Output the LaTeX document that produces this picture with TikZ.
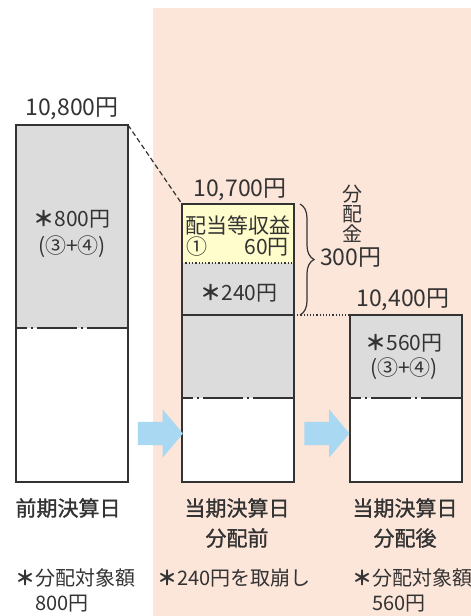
\documentclass[tikz,border=0pt]{standalone}
\usepackage{xcolor}
\usepackage{fontspec}
\setmainfont{Noto Sans CJK JP}
\newfontfamily\semibold{Noto Sans CJK JP}[FakeBold=1.2]
\usepackage{tikz}
\usetikzlibrary{positioning, shapes, shapes.arrows, decorations.pathreplacing, calc}

\definecolor{pinkbg}{HTML}{FCE5D9}
\definecolor{barfill}{HTML}{DCDCDC}
\definecolor{yelfill}{HTML}{FFFDCB}
\definecolor{arrblue}{HTML}{A8D8F2}
\definecolor{txtgray}{HTML}{333333}

\newcommand{\starmark}{{\bfseries ＊}}

\begin{document}
\begin{tikzpicture}[x=1pt, y=-1pt,
	seg/.style={minimum width=112pt, minimum height=#1, inner sep=0pt, outer sep=0pt, draw=none},
	barframe/.style={draw=txtgray, line width=1.3pt},
	dashdot/.style={draw=txtgray, line width=1.3pt, dash pattern=on 40pt off 4pt on 2pt off 4pt, dash phase=29pt},
	sumlbl/.style={font=\fontsize{23}{26}\selectfont, text=txtgray, inner sep=0pt},
	amtlbl/.style={font=\fontsize{21}{27}\selectfont, text=txtgray, inner sep=0pt},
	daylbl/.style={font=\fontsize{21}{30}\semibold, text=txtgray, inner sep=0pt, align=center},
	notelbl/.style={font=\fontsize{20}{25}\selectfont, text=txtgray, inner sep=0pt, align=left},
	steparrow/.style={single arrow, fill=arrblue, draw=none, minimum height=45pt, inner sep=11.5pt, single arrow head extend=12.5pt, single arrow tip angle=100}]
	
	\useasboundingbox (0,0) rectangle (471,616);
	\fill[pinkbg] (153,8) rectangle (471,616);
	
	% bars
	\node[seg=203pt, fill=barfill, anchor=north west] (prevTop) at (16,125) {};
	\node[seg=154pt, fill=white, below=0pt of prevTop] (prevBot) {};
	
	\node[seg=59pt, fill=yelfill, anchor=north west] (curInc) at (182,204) {};
	\node[seg=52pt, fill=barfill, below=0pt of curInc] (curRev) {};
	\node[seg=83pt, fill=barfill, below=0pt of curRev] (curTop) {};
	\node[seg=84pt, fill=white, below=0pt of curTop] (curBot) {};
	
	\node[seg=83pt, fill=barfill, anchor=north west] (aftTop) at (350,315) {};
	\node[seg=84pt, fill=white, below=0pt of aftTop] (aftBot) {};
	
	\draw[barframe] (prevTop.north west) rectangle (prevBot.south east);
	\draw[barframe] (curInc.north west) rectangle (curBot.south east);
	\draw[barframe] (aftTop.north west) rectangle (aftBot.south east);
	\draw[barframe] (curTop.north west) -- (curTop.north east);
	\draw[txtgray, line width=1.3pt, dotted] (curInc.south west) -- (curInc.south east);
	
	\foreach \b in {prevBot, curBot, aftBot}
		\draw[dashdot] (\b.north west) -- (\b.north east);
	
	% connectors
	\draw[txtgray, line width=1.2pt, dash pattern=on 5pt off 3pt] (prevTop.north east) -- (curInc.north west);
	\draw[txtgray, line width=1.2pt, dotted] (curTop.north east) -- (aftTop.north west);
	\draw[txtgray, line width=1.2pt, decorate, decoration={brace, amplitude=14pt}] ([xshift=6pt]curInc.north east) -- ([xshift=6pt]curRev.south east);
	
	\node[steparrow] (step1) at (155.5,433.5) {};
	\node[steparrow] (step2) at (322,433.5) {};
	
	% labels
	\node[sumlbl] (prevSum) at (72,109) {10,800円};
	\node[sumlbl] (curSum) at (240,190) {10,700円};
	\node[sumlbl] (aftSum) at (403,300) {10,400円};
	
	\node[amtlbl, align=center] (prevAmt) at (72,234) {\starmark{}800円\\(③+④)};
	\node[amtlbl, anchor=west] (incName) at (185,225) {配当等収益};
	\node[amtlbl, anchor=west] (incNo) at (186,247) {①};
	\node[amtlbl, anchor=east] (incAmt) at (289,247) {60円};
	\node[amtlbl] (revAmt) at (239,293) {\starmark{}240円};
	\node[amtlbl, align=center, font=\fontsize{21}{25}\selectfont] (aftAmt) at (404,357) {\starmark{}560円\\(③+④)};
	
	\node[sumlbl, anchor=west] (distAmt) at (320,258) {300円};
	\node[amtlbl, align=center, font=\fontsize{20}{20}\selectfont] (distName) at (352,214) {分\\配\\金};
	
	\node[daylbl] (prevDay) at (68,508) {前期決算日};
	\node[daylbl] (curDay) at (237,523) {当期決算日\\分配前};
	\node[daylbl] (aftDay) at (405,523) {当期決算日\\分配後};
	
	\node[notelbl, anchor=west] (prevNote) at (15,590) {\starmark{}分配対象額\\\hspace*{1em}800円};
	\node[notelbl] (curNote) at (234,578) {\starmark{}240円を取崩し};
	\node[notelbl, anchor=west] (aftNote) at (352,590) {\starmark{}分配対象額\\\hspace*{1em}560円};
	
\end{tikzpicture}
\end{document}
